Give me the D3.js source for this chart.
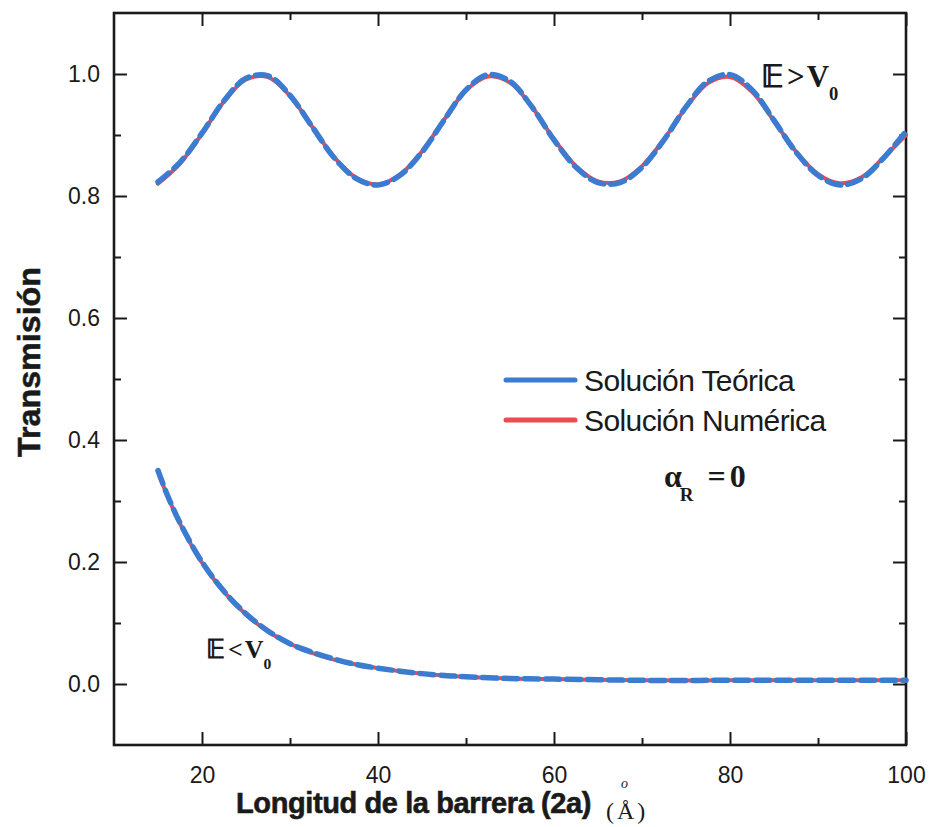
<!DOCTYPE html>
<html>
<head>
<meta charset="utf-8">
<script src="https://cdn.jsdelivr.net/npm/d3@7"></script>
<style>
  html, body { margin: 0; padding: 0; background: #fff; }
  svg { display: block; }
</style>
</head>
<body>
<svg id="chart" width="932" height="827"></svg>
<script>
// Barrier length 2a (Å)
const lengthsAbove = [15, 17.5, 20, 22.5, 25, 27.5, 30, 32.5, 35, 37.5, 40, 42.5, 45, 47.5, 50, 52.5, 55, 57.5, 60, 62.5, 65, 67.5, 70, 72.5, 75, 77.5, 80, 82.5, 85, 87.5, 90, 92.5, 95, 97.5, 100];
// Transmission for E > V0
const theoryAbove = [0.823, 0.855, 0.903, 0.956, 0.993, 0.997, 0.965, 0.914, 0.863, 0.829, 0.818, 0.834, 0.872, 0.924, 0.974, 0.999, 0.988, 0.946, 0.892, 0.847, 0.822, 0.822, 0.847, 0.892, 0.946, 0.988, 0.999, 0.974, 0.924, 0.872, 0.834, 0.818, 0.829, 0.863, 0.906];
const numericAbove = [0.820, 0.853, 0.902, 0.955, 0.991, 0.995, 0.964, 0.914, 0.864, 0.830, 0.819, 0.835, 0.873, 0.925, 0.973, 0.996, 0.986, 0.946, 0.893, 0.849, 0.824, 0.824, 0.849, 0.893, 0.945, 0.985, 0.995, 0.971, 0.923, 0.873, 0.836, 0.821, 0.831, 0.864, 0.900];

const lengthsBelow = [15, 16, 17.5, 20, 22.5, 25, 27.5, 30, 32.5, 35, 37.5, 40, 42.5, 45, 47.5, 50, 55, 60, 65, 70, 80, 90, 100];
// Transmission for E < V0
const theoryBelow = [0.350, 0.312, 0.264, 0.200, 0.152, 0.115, 0.087, 0.066, 0.052, 0.041, 0.032, 0.026, 0.021, 0.017, 0.014, 0.012, 0.009, 0.008, 0.007, 0.006, 0.006, 0.006, 0.006];
const numericBelow = [0.348, 0.311, 0.263, 0.199, 0.151, 0.114, 0.086, 0.066, 0.051, 0.040, 0.032, 0.026, 0.021, 0.017, 0.014, 0.012, 0.009, 0.008, 0.007, 0.006, 0.006, 0.006, 0.006];

const xTicks = [20, 40, 60, 80, 100];
const xMinor = [30, 50, 70, 90];
const yTicks = [0.0, 0.2, 0.4, 0.6, 0.8, 1.0];
const yMinor = [0.1, 0.3, 0.5, 0.7, 0.9];

const seriesNames = ["Solución Teórica", "Solución Numérica"];
const blue = "#3b7bd0";
const red = "#ec4a4f";

const svg = d3.select("#chart");
const plotLeft = 114, plotRight = 906, plotTop = 13, plotBottom = 745;

const x = d3.scaleLinear().domain([10, 100]).range([plotLeft, plotRight]);
const y = d3.scaleLinear().domain([-0.1, 1.1]).range([plotBottom, plotTop]);

const sansFont = "'Liberation Sans', Arial, sans-serif";
const serifFont = "'Liberation Serif', 'Times New Roman', serif";
const ink = "#1a1a1a";

// Axes with inward ticks on all four sides
function styleAxis(g) {
  g.select(".domain").remove();
  g.selectAll(".tick line").attr("stroke", ink).attr("stroke-width", 2);
  g.selectAll(".tick text").attr("font-family", sansFont).attr("font-size", 23).attr("fill", ink);
}

svg.append("g").attr("transform", `translate(0,${plotBottom})`)
  .call(d3.axisBottom(x).tickValues(xTicks).tickSizeInner(-13).tickPadding(22).tickFormat(d3.format("d")))
  .call(styleAxis);
svg.append("g").attr("transform", `translate(0,${plotBottom})`)
  .call(d3.axisBottom(x).tickValues(xMinor).tickSizeInner(-7).tickFormat(""))
  .call(styleAxis);
svg.append("g").attr("transform", `translate(0,${plotTop})`)
  .call(d3.axisTop(x).tickValues(xTicks).tickSizeInner(-13).tickFormat(""))
  .call(styleAxis);
svg.append("g").attr("transform", `translate(0,${plotTop})`)
  .call(d3.axisTop(x).tickValues(xMinor).tickSizeInner(-7).tickFormat(""))
  .call(styleAxis);

svg.append("g").attr("transform", `translate(${plotLeft},0)`)
  .call(d3.axisLeft(y).tickValues(yTicks).tickSizeInner(-13).tickPadding(14).tickFormat(d3.format(".1f")))
  .call(styleAxis);
svg.append("g").attr("transform", `translate(${plotLeft},0)`)
  .call(d3.axisLeft(y).tickValues(yMinor).tickSizeInner(-7).tickFormat(""))
  .call(styleAxis);
svg.append("g").attr("transform", `translate(${plotRight},0)`)
  .call(d3.axisRight(y).tickValues(yTicks).tickSizeInner(-13).tickFormat(""))
  .call(styleAxis);
svg.append("g").attr("transform", `translate(${plotRight},0)`)
  .call(d3.axisRight(y).tickValues(yMinor).tickSizeInner(-7).tickFormat(""))
  .call(styleAxis);

// Frame
svg.append("rect")
  .attr("x", plotLeft).attr("y", plotTop)
  .attr("width", plotRight - plotLeft).attr("height", plotBottom - plotTop)
  .attr("fill", "none").attr("stroke", ink).attr("stroke-width", 2.6);

// Curves: numerical (solid red) under theoretical (dashed blue)
const line = d3.line().x(d => x(d[0])).y(d => y(d[1])).curve(d3.curveCatmullRom);
const zip = (xs, ys) => xs.map((v, i) => [v, ys[i]]);

const curves = [
  { data: zip(lengthsAbove, numericAbove), color: red, width: 4, dash: null },
  { data: zip(lengthsBelow, numericBelow), color: red, width: 4, dash: null },
  { data: zip(lengthsAbove, theoryAbove), color: blue, width: 5.5, dash: "14,7" },
  { data: zip(lengthsBelow, theoryBelow), color: blue, width: 5.5, dash: "14,7" }
];
svg.append("g").selectAll("path").data(curves).join("path")
  .attr("d", d => line(d.data))
  .attr("fill", "none")
  .attr("stroke", d => d.color)
  .attr("stroke-width", d => d.width)
  .attr("stroke-dasharray", d => d.dash)
  .attr("stroke-linecap", "round");

// Legend
const legend = svg.append("g");
[blue, red].forEach((c, i) => {
  const ly = 380 + i * 40;
  legend.append("line").attr("x1", 506).attr("x2", 575).attr("y1", ly).attr("y2", ly)
    .attr("stroke", c).attr("stroke-width", 5).attr("stroke-linecap", "round");
  legend.append("text").attr("x", 584).attr("y", ly + 11)
    .attr("font-family", sansFont).attr("font-size", 30).attr("fill", ink)
    .attr("letter-spacing", -0.6)
    .text(seriesNames[i]);
});

// alpha_R = 0
const alpha = svg.append("text").attr("x", 664).attr("y", 487)
  .attr("font-family", serifFont).attr("font-weight", "bold").attr("font-size", 32).attr("fill", ink);
alpha.append("tspan").text("α");
alpha.append("tspan").attr("font-size", 19).attr("dy", 14).attr("dx", -2).text("R");
alpha.append("tspan").attr("dy", -14).attr("dx", 14).text("=");
alpha.append("tspan").attr("dx", 4).text("0");

// Regime labels
function regimeLabel(px, py, size, sign) {
  const t = svg.append("text").attr("x", px).attr("y", py)
    .attr("font-family", serifFont).attr("font-weight", "bold").attr("font-size", size).attr("fill", ink);
  t.append("tspan").text("𝔼");
  t.append("tspan").attr("dx", 3).text(sign);
  t.append("tspan").attr("dx", 2).text("V");
  t.append("tspan").attr("font-size", size * 0.6).attr("dy", size * 0.42).text("0");
}
regimeLabel(761, 87, 31, ">");
regimeLabel(206, 658, 26, "<");

// Axis titles
svg.append("text")
  .attr("transform", "translate(40,362) rotate(-90)")
  .attr("text-anchor", "middle")
  .attr("font-family", sansFont).attr("font-weight", "bold").attr("font-size", 31)
  .attr("textLength", 190).attr("lengthAdjust", "spacingAndGlyphs")
  .attr("fill", ink).attr("stroke", ink).attr("stroke-width", 0.5)
  .text("Transmisión");

svg.append("text")
  .attr("x", 236).attr("y", 813)
  .attr("font-family", sansFont).attr("font-weight", "bold").attr("font-size", 29)
  .attr("letter-spacing", -0.4)
  .attr("fill", ink).attr("stroke", ink).attr("stroke-width", 0.6)
  .text("Longitud de la barrera (2a)");
svg.append("text")
  .attr("x", 606).attr("y", 819)
  .attr("font-family", serifFont).attr("font-size", 24).attr("fill", ink)
  .attr("letter-spacing", 3)
  .text("(Å)");
svg.append("text")
  .attr("x", 621).attr("y", 788)
  .attr("font-family", serifFont).attr("font-style", "italic").attr("font-size", 14).attr("fill", ink)
  .text("o");
</script>
</body>
</html>
